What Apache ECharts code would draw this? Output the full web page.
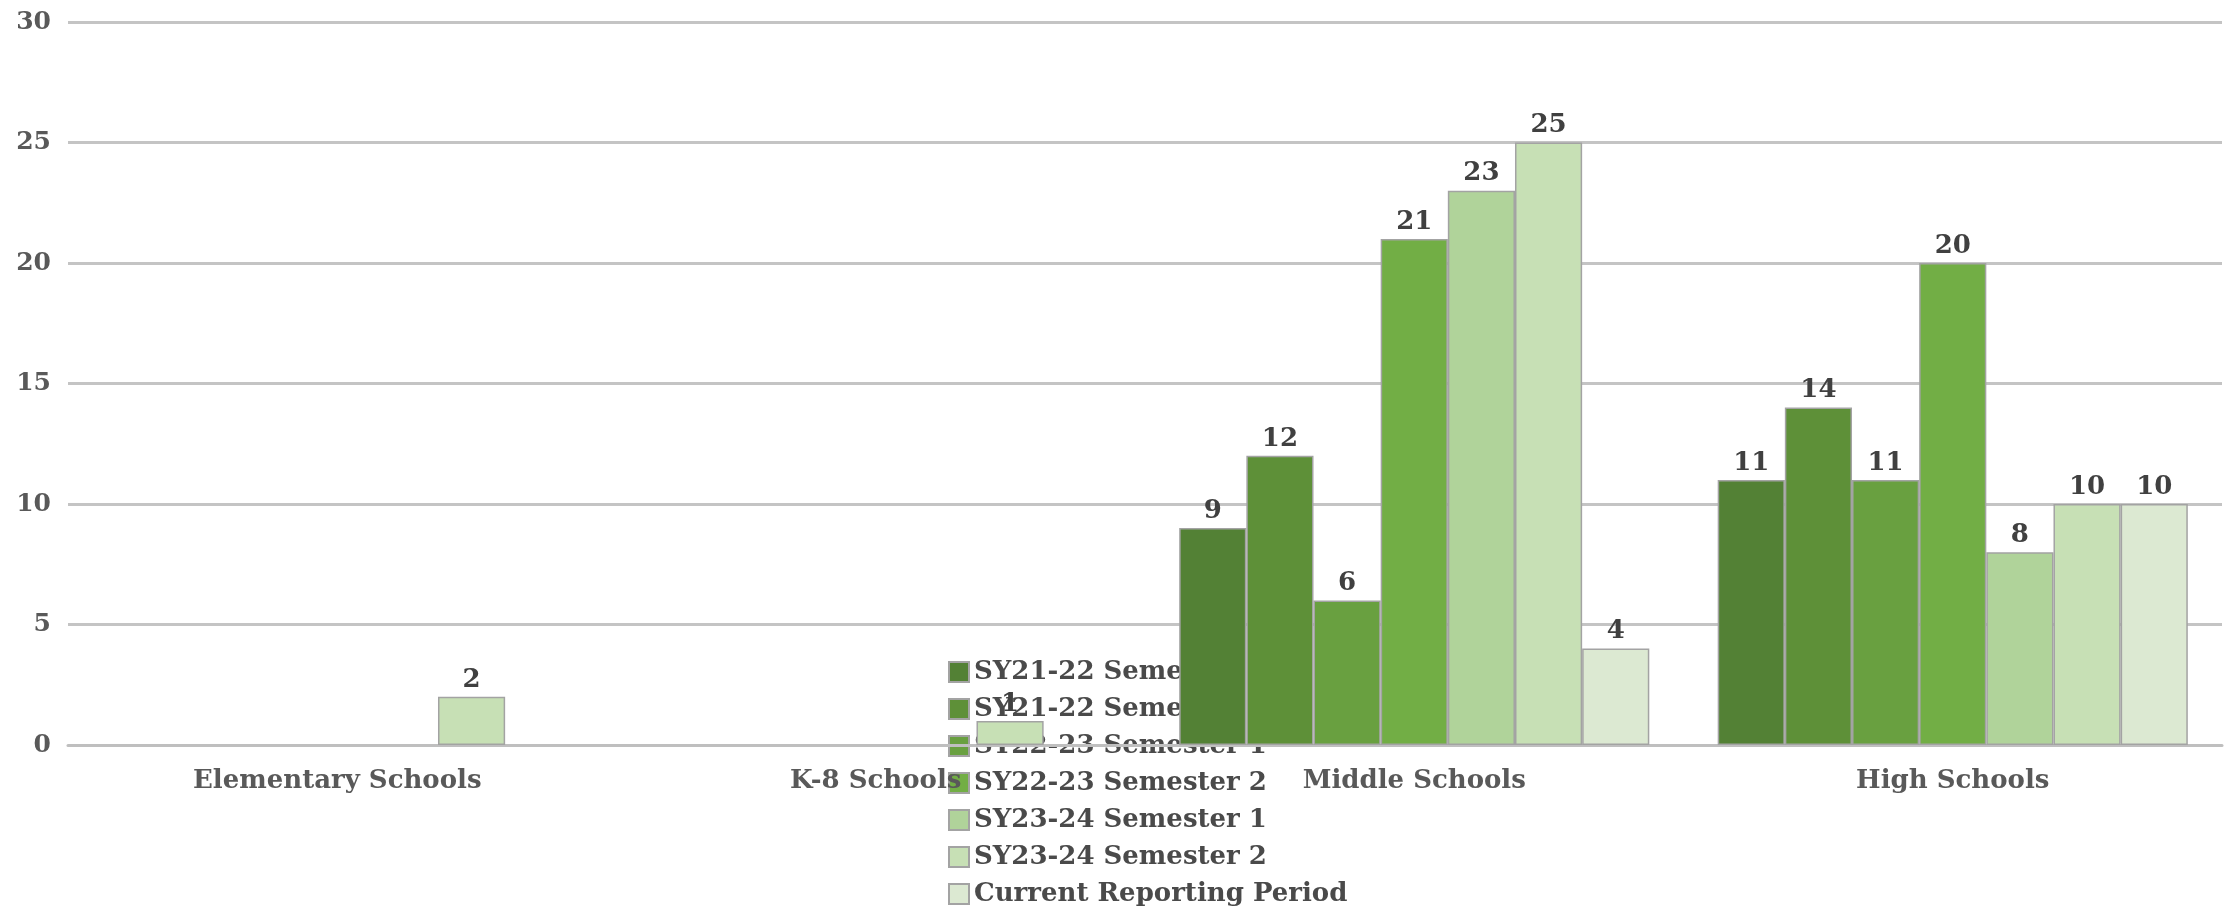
<!DOCTYPE html>
<html>
<head>
<meta charset="utf-8">
<script src="https://cdn.jsdelivr.net/npm/echarts@6/dist/echarts.min.js"></script>
<style>
  html, body { margin: 0; padding: 0; background: #fff; }
  #chart { width: 2224px; height: 911px; }
</style>
</head>
<body>
<div id="chart"></div>
<script>
var categories = ["Elementary Schools", "K-8 Schools", "Middle Schools", "High Schools"];
var seriesNames = [
  "SY21-22 Semester 1",
  "SY21-22 Semester 2",
  "SY22-23 Semester 1",
  "SY22-23 Semester 2",
  "SY23-24 Semester 1",
  "SY23-24 Semester 2",
  "Current Reporting Period"
];
var sy2122s1 = [null, null, 9, 11];
var sy2122s2 = [null, null, 12, 14];
var sy2223s1 = [null, null, 6, 11];
var sy2223s2 = [null, null, 21, 20];
var sy2324s1 = [null, null, 23, 8];
var sy2324s2 = [2, 1, 25, 10];
var current = [null, null, 4, 10];
var yTicks = [0, 5, 10, 15, 20, 25, 30];

var colors = ["#538135", "#5e9038", "#69a040", "#72ae45", "#b0d39a", "#c7e0b5", "#dce9d2"];
var values = [sy2122s1, sy2122s2, sy2223s1, sy2223s2, sy2324s1, sy2324s2, current];
var font = "'DejaVu Serif', serif";

var chart = echarts.init(document.getElementById("chart"));
var option = {
  animation: false,
  backgroundColor: "#fff",
  grid: { left: 68, right: 2, top: 22, bottom: 166, containLabel: false },
  legend: {
    orient: "vertical",
    left: 948,
    top: 659,
    height: 252,
    padding: 0,
    z: 0,
    itemWidth: 20,
    itemHeight: 20,
    itemGap: 11,
    icon: "rect",
    data: seriesNames,
    textStyle: { fontFamily: font, fontWeight: "bold", fontSize: 26, color: "#4a4a4a", lineHeight: 26 }
  },
  xAxis: {
    type: "category",
    data: categories,
    axisTick: { show: false },
    axisLine: { lineStyle: { color: "#bfbfbf", width: 3 } },
    axisLabel: { fontFamily: font, fontWeight: "bold", fontSize: 26, color: "#595959", margin: 23 }
  },
  yAxis: {
    type: "value",
    min: yTicks[0],
    max: yTicks[yTicks.length - 1],
    interval: 5,
    axisLine: { show: false },
    axisTick: { show: false },
    splitLine: { lineStyle: { color: "#c4c4c4", width: 3 } },
    axisLabel: { fontFamily: font, fontWeight: "bold", fontSize: 25, color: "#595959", margin: 17 }
  },
  series: seriesNames.map(function (name, i) {
    return {
      name: name,
      type: "bar",
      z: 2,
      data: values[i],
      barGap: "0%",
      barCategoryGap: "12.7%",
      itemStyle: { color: colors[i], borderColor: "#a3a3a3", borderWidth: 1.5 },
      label: {
        show: true,
        position: "top",
        distance: 4,
        fontFamily: font,
        fontWeight: "bold",
        fontSize: 26,
        color: "#404040"
      }
    };
  })
};
chart.setOption(option);
</script>
</body>
</html>
